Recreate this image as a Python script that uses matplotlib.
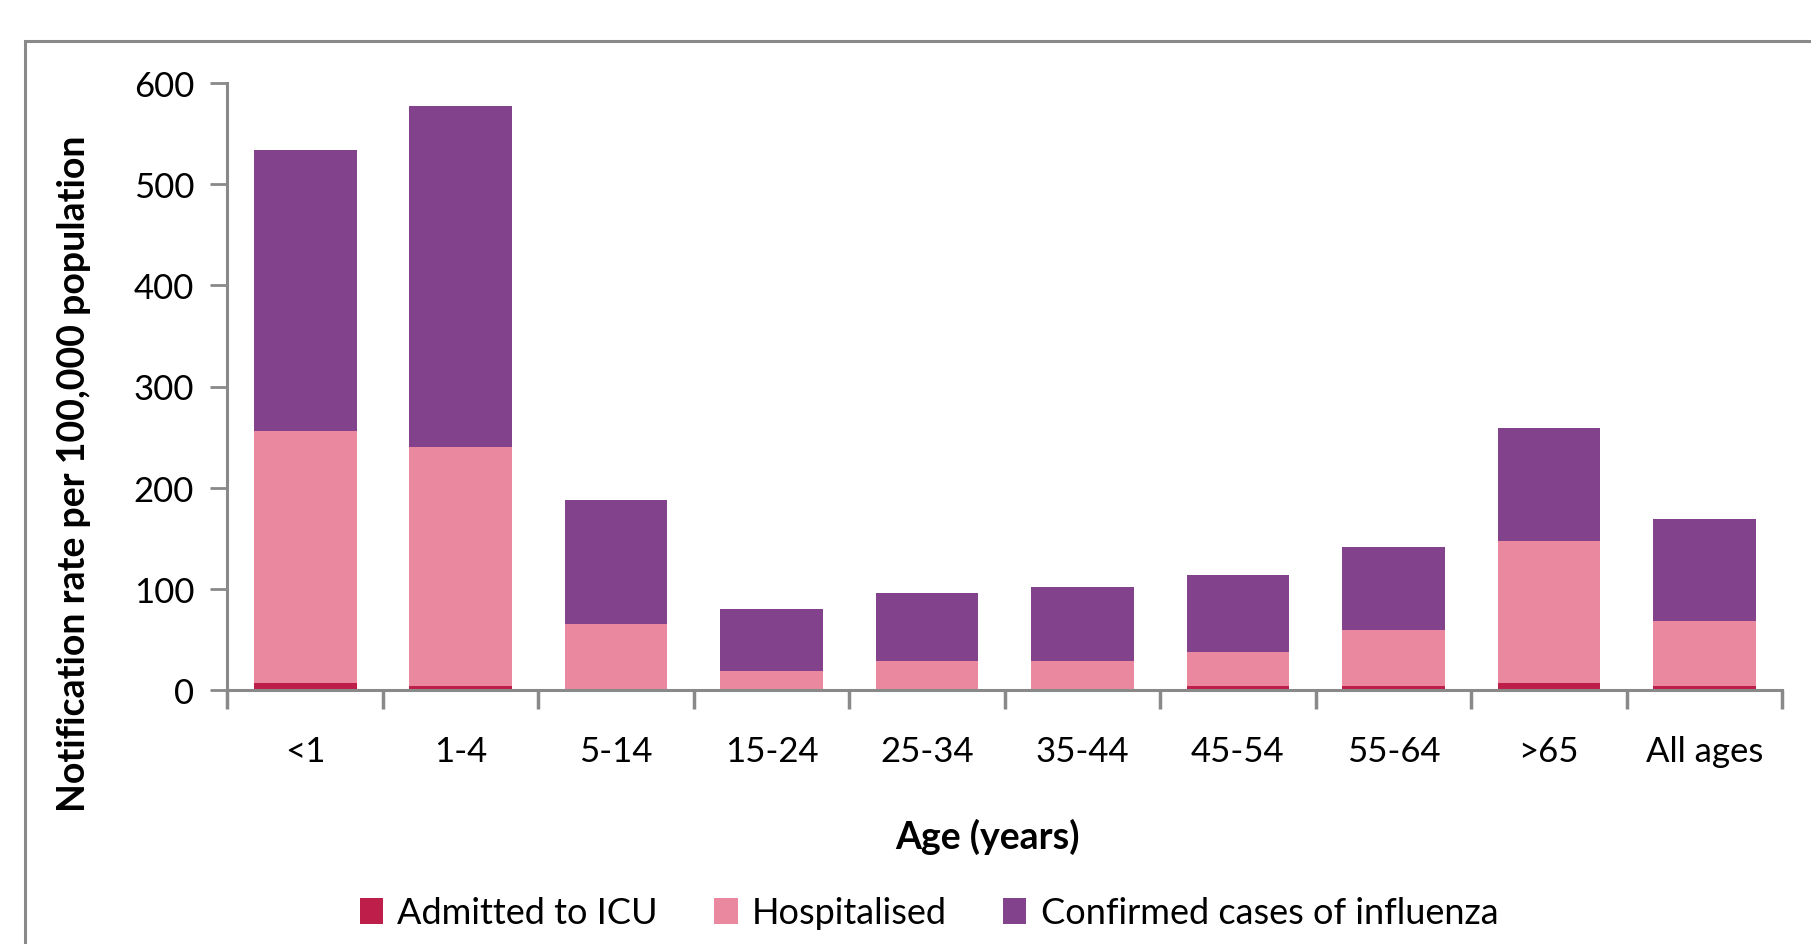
import numpy as np
import matplotlib.pyplot as plt
from matplotlib.patches import Rectangle

# notification rates per 100,000
ages = ['<1', '1-4', '5-14', '15-24', '25-34', '35-44', '45-54', '55-64', '>65', 'All ages']
confirmed = [534, 577, 188, 80, 96, 102, 114, 141, 259, 169]
hospitalised = [256, 240, 65, 19, 29, 29, 38, 59, 147, 68]
icu = [7, 4, 0.5, 0.5, 0.5, 0.5, 4, 4, 7, 4]

purple = '#83428C'
pink = '#E9889F'
red = '#BE1E4A'
grey = '#898989'

plt.rcParams['font.family'] = ['Lato', 'DejaVu Sans']

fig = plt.figure(figsize=(18.11, 9.45), dpi=100)
ax = fig.add_axes([227.5/1811, 1-691/945, (1782-227.5)/1811, (691-84)/945])

x = np.arange(len(ages))
w = 0.66
# bars overlap in Excel style: each series drawn from zero
ax.bar(x, confirmed, w, color=purple, label='Confirmed cases of influenza', zorder=2)
ax.bar(x, hospitalised, w, color=pink, label='Hospitalised', zorder=3)
ax.bar(x, icu, w, color=red, label='Admitted to ICU', zorder=4)

ax.set_xlim(-0.5, len(ages)-0.5)
ax.set_ylim(0, 600)
ax.set_yticks(range(0, 601, 100))
ax.tick_params(axis='y', labelsize=25, length=12, width=2, color=grey, pad=12)

ax.set_xticks(x)
ax.set_xticklabels(ages)
ax.set_xticks(np.arange(-0.5, len(ages)), minor=True)
ax.tick_params(axis='x', which='major', length=0, labelsize=25, pad=32.5)
ax.tick_params(axis='x', which='minor', length=14, width=2.5, color=grey)

for s in ['top', 'right']:
    ax.spines[s].set_visible(False)
for s in ['left', 'bottom']:
    ax.spines[s].set_color(grey)
    ax.spines[s].set_linewidth(2.2)
    ax.spines[s].set_zorder(5)

axw = 1782 - 227.5
axh = 691 - 84
ax.set_xlabel('Age (years)', fontsize=27, fontweight='bold')
ax.xaxis.set_label_coords((987-227.5)/axw, -(819-691)/axh)
ax.set_ylabel('Notification rate per 100,000 population', fontsize=27, fontweight='bold')
ax.yaxis.set_label_coords(-(227.5-91)/axw, (691-474)/axh)

h, l = ax.get_legend_handles_labels()
fig.legend(h[::-1], l[::-1], loc='center', bbox_to_anchor=(929/1811, 1-914/945),
           ncol=3, frameon=False, fontsize=26, handlelength=0.65, handleheight=0.75,
           handletextpad=0.4, columnspacing=1.55)

# outer chart border, cut off at the right and bottom
fig.patches.append(Rectangle((25/1811, -0.1), 1.2, 0.1+1-42/945, transform=fig.transFigure,
                             fill=False, edgecolor=grey, linewidth=2.2))

fig.savefig('out.png', dpi=100)
